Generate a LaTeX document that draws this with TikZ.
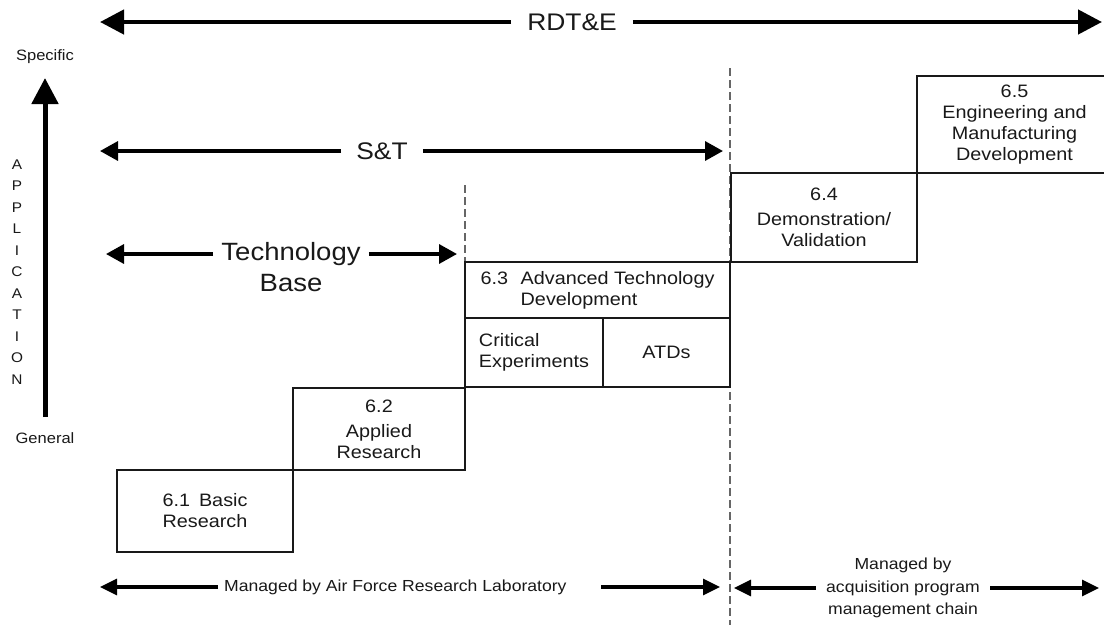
\documentclass[tikz,border=0pt]{standalone}
\usepackage{fontspec}
\setmainfont[FakeStretch=1.1]{Liberation Sans}
\usetikzlibrary{arrows.meta}

\begin{document}
\begin{tikzpicture}[x=1pt,y=-1pt,
  txt/.style={inner sep=0pt, text=black!90},
  box/.style={draw=black!90, line width=2pt, inner sep=0pt, font=\fontsize{18}{21}\selectfont, align=center, text=black!90},
  bigarrow/.style={line width=4.5pt, -{Triangle[length=24pt,width=24pt]}},
  midarrow/.style={line width=3.4pt, -{Triangle[length=18pt,width=19pt]}},
  smallarrow/.style={line width=3.2pt, -{Triangle[length=17pt,width=16pt]}},
  divider/.style={draw=black!60, line width=2.4pt, dash pattern=on 8pt off 4pt},
]
\clip (0,0) rectangle (1104,625);
\fill[white] (0,0) rectangle (1104,625);

% ---- top RDT&E arrow
\node[txt, inner xsep=16pt, font=\fontsize{24}{28}\selectfont] (rdte) at (572,22) {RDT\&E};
\coordinate (rdL) at (100,22);
\coordinate (rdR) at (1102,22);
\draw[bigarrow] (rdte) -- (rdL);
\draw[bigarrow] (rdte) -- (rdR);

% ---- S&T arrow
\node[txt, inner xsep=15pt, font=\fontsize{24}{28}\selectfont] (st) at (382,151) {S\&T};
\coordinate (stL) at (100,151);
\coordinate (stR) at (723,151);
\draw[midarrow] (st) -- (stL);
\draw[midarrow] (st) -- (stR);

% ---- Technology Base arrow
\node[txt, inner xsep=8pt, font=\fontsize{25}{29}\selectfont] (tech) at (291,254) {Technology};
\node[txt, font=\fontsize{25}{29}\selectfont] (base) at (291,283) {Base};
\coordinate (tbL) at (106,254);
\coordinate (tbR) at (457,254);
\draw[midarrow] (tech) -- (tbL);
\draw[midarrow] (tech) -- (tbR);

% ---- application axis
\node[txt, font=\fontsize{15}{18}\selectfont] (spec) at (45,57) {Specific};
\node[txt, font=\fontsize{15}{18}\selectfont] (gen) at (45,438) {General};
\coordinate (axB) at (45,417);
\coordinate (axT) at (45,78);
\draw[line width=5pt, -{Triangle[length=26pt,width=26pt]}] (axB) -- (axT);
\node[txt, font=\fontsize{14}{21.5}\selectfont, align=center] (appl) at (17,272)
  {A\\P\\P\\L\\I\\C\\A\\T\\I\\O\\N};

% ---- dashed dividers
\coordinate (d1T) at (465,185);
\coordinate (d1B) at (465,262);
\coordinate (d2T) at (730,68);
\coordinate (d2B) at (730,625);
\draw[divider] (d1T) -- (d1B);
\draw[divider] (d2T) -- (d2B);

% ---- staircase boxes
\node[box, minimum width=176pt, minimum height=82pt] (b61) at (205,511)
  {6.1\hspace{0.5em}Basic\\Research};
\node[box, minimum width=172pt, minimum height=82pt] (b62) at (379,429)
  {6.2\\[4pt]Applied\\Research};
\node[box, minimum width=265pt, minimum height=56pt, align=left] (b63) at (597.5,290)
  {6.3\hspace{0.7em}Advanced Technology\\\hphantom{6.3\hspace{0.7em}}Development};
\node[box, minimum width=138pt, minimum height=69pt, align=left] (bce) at (534,352.5)
  {Critical\\Experiments};
\node[box, minimum width=127pt, minimum height=69pt] (batd) at (666.5,352.5)
  {ATDs};
\node[box, minimum width=186pt, minimum height=89pt] (b64) at (824,217.5)
  {6.4\\[4pt]Demonstration/\\Validation};
\node[box, minimum width=195pt, minimum height=97pt] (b65) at (1014.5,124.5)
  {6.5\\Engineering and\\Manufacturing\\Development};

% ---- bottom management arrows
\node[txt, font=\fontsize{16}{19}\selectfont, anchor=west] (afrl) at (224,587)
  {Managed by Air Force Research Laboratory};
\coordinate (afL) at (100,587);
\coordinate (afM) at (601,587);
\coordinate (afR) at (720,587);
\draw[smallarrow] ([xshift=-6pt]afrl.west) -- (afL);
\draw[smallarrow] (afM) -- (afR);

\node[txt, inner xsep=10pt, font=\fontsize{16}{22.5}\selectfont, align=center] (acq) at (903,588)
  {Managed by\\acquisition program\\management chain};
\coordinate (acL) at (734,588);
\coordinate (acR) at (1099,588);
\draw[smallarrow] (acq) -- (acL);
\draw[smallarrow] (acq) -- (acR);
\end{tikzpicture}
\end{document}
